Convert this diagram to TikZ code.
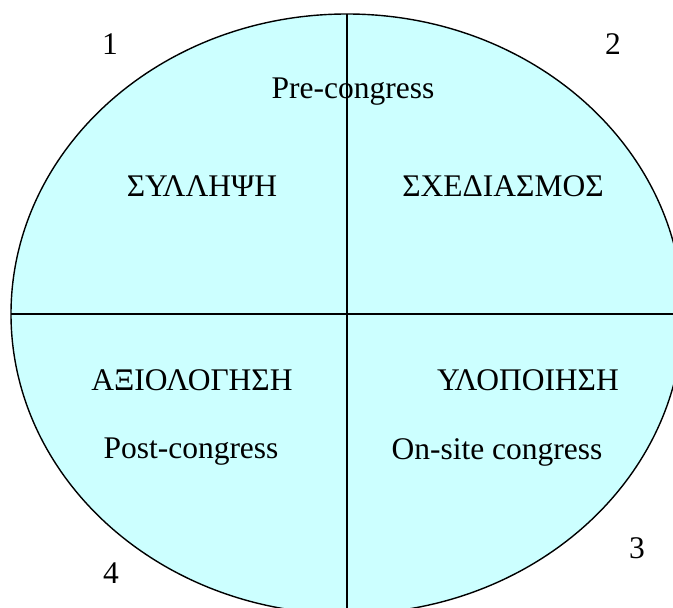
\documentclass[tikz,border=0pt]{standalone}
\usepackage{fontspec}
\setmainfont{Liberation Serif}
\usepackage{xcolor}
\usetikzlibrary{shapes.geometric}
\definecolor{phasefill}{HTML}{CCFFFF}
\tikzset{
  phasering/.style={ellipse,draw=black,line width=1.4pt,fill=phasefill,
    inner sep=0pt,outer sep=0pt},
  divider/.style={line width=1.1pt,draw=black},
  phaselabel/.style={font=\fontsize{31.5}{36}\selectfont,inner sep=0pt},
  stepnum/.style={phaselabel}}

\begin{document}
\begin{tikzpicture}[x=1pt,y=1pt]
  \useasboundingbox (0,0) rectangle (673,608);

  \node[phasering,minimum width=672pt,minimum height=600pt] (ring) at (347,294) {};

  \draw[divider] (ring.north) -- (ring.south);
  \draw[divider] (ring.west) -- (ring.east);

  % step numbers
  \node[stepnum] (n1) at (110,564) {1};
  \node[stepnum] (n2) at (613,564) {2};
  \node[stepnum] (n3) at (637,60) {3};
  \node[stepnum] (n4) at (111,35) {4};

  % quadrants
  \node[phaselabel] (pre) at (353,516) {Pre-congress};
  \node[phaselabel] (concept) at (202,422) {ΣΥΛΛΗΨΗ};
  \node[phaselabel] (design) at (503,422) {ΣΧΕΔΙΑΣΜΟΣ};
  \node[phaselabel] (eval) at (192,228) {ΑΞΙΟΛΟΓΗΣΗ};
  \node[phaselabel] (impl) at (528,228) {ΥΛΟΠΟΙΗΣΗ};
  \node[phaselabel] (post) at (191,156) {Post-congress};
  \node[phaselabel] (onsite) at (497,156) {On-site congress};
\end{tikzpicture}
\end{document}
